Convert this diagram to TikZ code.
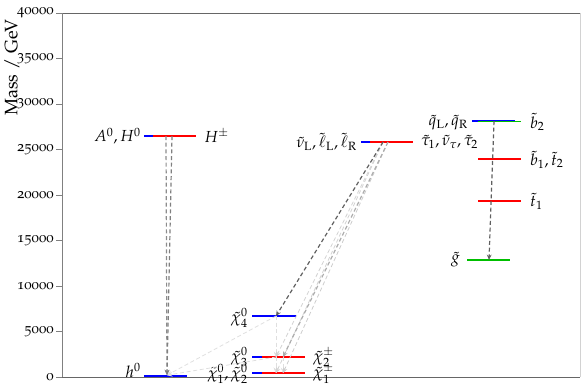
\documentclass[tikz,border=0pt]{standalone}
\usepackage[T1]{fontenc}
\usepackage[osf]{mathpazo}
\usepackage{amsmath}
\usetikzlibrary{arrows.meta,positioning}

\begin{document}
\begin{tikzpicture}[x=0.75pt,y=6.825pt,font=\fontsize{11}{13}\selectfont,
  lvl/.style={line width=1pt},
  decay/.style={dash pattern=on 3pt off 2pt,line width=0.9pt,-{Stealth[length=4pt,width=3.5pt]}},
  lname/.style={anchor=east,inner sep=0pt,font=\fontsize{12}{14}\selectfont},
  rname/.style={anchor=west,inner sep=0pt,font=\fontsize{12}{14}\selectfont}]
\useasboundingbox (0,-1.319) rectangle (585,41.43);
% frame and axis
\draw[gray!35] (580,40) -- (580,0);
\draw[gray!80!black] (62,40) -- (580,40);
\draw[gray!80!black] (62,0) -- (580,0);
\draw[gray] (62,0) -- (62,40);
\foreach \m/\t in {0/0,5/5000,10/10000,15/15000,20/20000,25/25000,30/30000,35/35000,40/40000} {
  \draw[gray] (56,\m) -- (62,\m);
  \node[anchor=east,inner sep=1.5pt] (tick\m) at (56,\m) {\t};
}
\node[rotate=90,font=\fontsize{13.5}{15}\selectfont] (ylab) at (12,34.0) {Mass / GeV};

% Higgs sector
\draw[lvl,blue] (144,0.125) -- (187,0.125);
\draw[lvl,blue] (144,26.48) -- (187,26.48);
\draw[lvl,red] (153,26.48) -- (196,26.48);
\node[lname] (nA) at (141,26.48) {$A^0, H^0$};
\node[rname] (nHp) at (204,26.48) {$H^\pm$};
\node[lname] (nh) at (141,0.75) {$h^0$};

% gauginos
\draw[lvl,blue] (252,6.70) -- (296,6.70);
\draw[lvl,blue] (252,2.20) -- (296,2.20);
\draw[lvl,blue] (252,0.44) -- (296,0.44);
\draw[lvl,red] (262,2.20) -- (305,2.20);
\draw[lvl,red] (262,0.44) -- (305,0.44);
\node[lname] (nN4) at (248,6.45) {$\tilde{\chi}^0_4$};
\node[lname] (nN3) at (248,2.15) {$\tilde{\chi}^0_3$};
\node[lname] (nN12) at (248,0.35) {$\tilde{\chi}^0_1, \tilde{\chi}^0_2$};
\node[rname] (nC2) at (313,2.15) {$\tilde{\chi}^\pm_2$};
\node[rname] (nC1) at (313,0.35) {$\tilde{\chi}^\pm_1$};

% sleptons
\draw[lvl,blue] (361,25.82) -- (404,25.82);
\draw[lvl,red] (370,25.82) -- (413,25.82);
\node[lname] (nsl) at (357,25.82) {$\tilde{\nu}_\mathrm{L}, \tilde{\ell}_\mathrm{L}, \tilde{\ell}_\mathrm{R}$};
\node[rname] (nstau) at (421,25.82) {$\tilde{\tau}_1, \tilde{\nu}_\tau, \tilde{\tau}_2$};

% squarks and gluino
\draw[lvl,blue] (472,28.13) -- (515,28.13);
\draw[green!75!black,line width=0.6pt] (478,28.13) -- (521,28.13);
\draw[lvl,red] (478,23.96) -- (521,23.96);
\draw[lvl,red] (478,19.34) -- (521,19.34);
\draw[lvl,green!75!black] (467,12.86) -- (510,12.86);
\node[lname] (nsq) at (468,27.95) {$\tilde{q}_\mathrm{L}, \tilde{q}_\mathrm{R}$};
\node[rname] (nb2) at (530,28.0) {$\tilde{b}_2$};
\node[rname] (nb1) at (530,23.9) {$\tilde{b}_1, \tilde{t}_2$};
\node[rname] (nt1) at (530,19.3) {$\tilde{t}_1$};
\node[lname] (ngl) at (460,12.86) {$\tilde{g}$};

% decay end points
\coordinate (HA) at (166,26.48);
\coordinate (HB) at (172,26.48);
\coordinate (h0) at (167,0.2);
\coordinate (SLa) at (383,25.82);
\coordinate (SLb) at (388,25.82);
\coordinate (N4) at (276,6.70);
\coordinate (N3) at (276,2.20);
\coordinate (C2) at (283,2.20);
\coordinate (N1) at (276,0.44);
\coordinate (C1) at (283,0.44);
\coordinate (SQ) at (494,28.13);
\coordinate (GL) at (489,12.86);

% decays
\draw[decay,gray!25,line width=0.6pt] (N4) -- (h0);
\draw[decay,gray!25,line width=0.6pt] (N3) -- (h0);
\draw[decay,gray!25,line width=0.6pt] (N4) -- (N3);
\draw[decay,gray!25,line width=0.6pt] (N4) -- (N1);
\draw[decay,gray!25,line width=0.6pt] (N3) -- (N1);
\draw[decay,gray!25,line width=0.6pt] (C2) -- (C1);
\draw[decay,gray!35,line width=0.6pt] (SLa) -- (N3);
\draw[decay,gray!35,line width=0.6pt] (SLa) -- (N1);
\draw[decay,gray!40,line width=0.6pt] (SLb) -- (C1);
\draw[decay,gray!65] (SLb) -- (C2);
\draw[decay,gray!75!black] (SLa) -- (N4);
\draw[decay,gray!90] (HA) -- (h0);
\draw[decay,gray] (HB) -- (h0);
\draw[decay,gray!75!black] (SQ) -- (GL);
\end{tikzpicture}
\end{document}
